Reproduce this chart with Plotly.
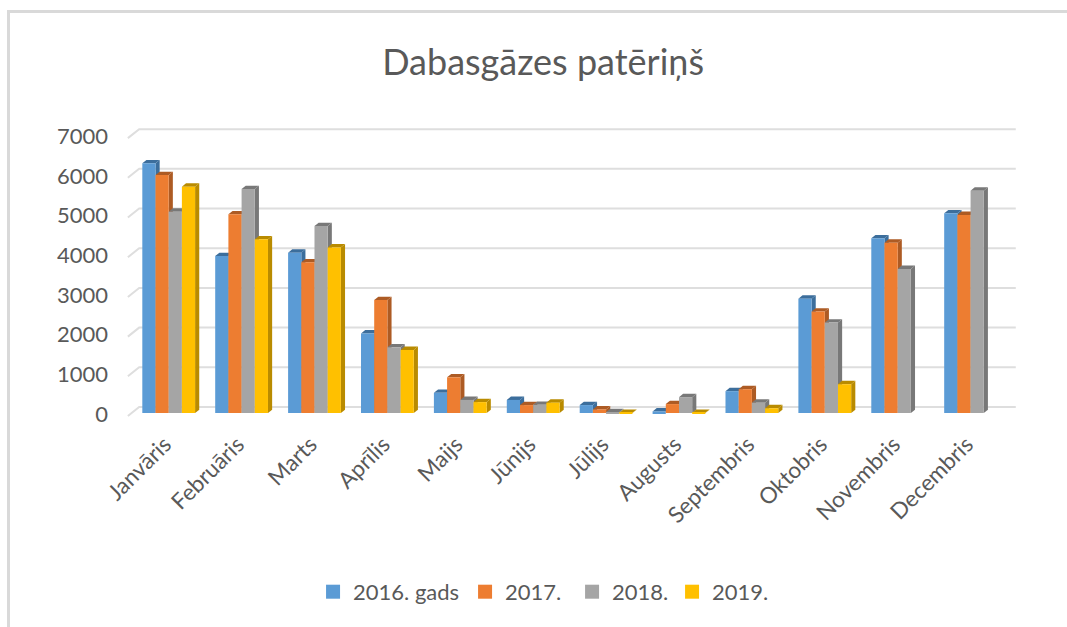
import plotly.graph_objects as go

title = "Dabasgāzes patēriņš"
months = ["Janvāris", "Februāris", "Marts", "Aprīlis", "Maijs", "Jūnijs", "Jūlijs",
          "Augusts", "Septembris", "Oktobris", "Novembris", "Decembris"]
y_ticks = [0, 1000, 2000, 3000, 4000, 5000, 6000, 7000]

names = ["2016. gads", "2017.", "2018.", "2019."]
s2016 = [6290, 3955, 4040, 2005, 510, 330, 200, 40, 550, 2880, 4400, 5030]
s2017 = [5995, 5005, 3795, 2845, 900, 200, 90, 225, 600, 2555, 4290, 4990]
s2018 = [5070, 5640, 4710, 1655, 330, 205, 20, 400, 260, 2280, 3630, 5600]
s2019 = [5700, 4375, 4170, 1590, 275, 260, 5, 5, 120, 725, None, None]
series = [s2016, s2017, s2018, s2019]

colors = ["#5B9BD5", "#ED7D31", "#A5A5A5", "#FFC000"]
dark = ["#3C6E9C", "#AD5B24", "#787878", "#B98B00"]
legend_left = [0.2145, 0.3834, 0.5023, 0.6134]

bar_w = 0.181      # one bar, in category units
dx, dy = 0.057, 85 # depth of the fake 3d

fig = go.Figure()
shapes = []

# outer frame, only top and left are in the picture
shapes.append(dict(type="path", xref="paper", yref="paper", line=dict(color="#D9D9D9", width=3),
                   path="M -0.1239 -0.69 L -0.1239 1.362 L 1.0523 1.362"))

# back wall gridlines with the short slant on the left
for t in y_ticks:
    shapes.append(dict(type="path", layer="below", line=dict(color="#DEDEDE", width=2),
                       path=f"M -0.56 {t - 76} L -0.405 {t + 151} L 11.62 {t + 151}"))

for j, vals in enumerate(series):
    xs = [i + (j - 2) * bar_w for i in range(len(months))]
    for x0, v in zip(xs, vals):
        if v is None:
            continue
        x1 = x0 + bar_w
        shapes.append(dict(type="path", layer="below", fillcolor=dark[j], line_width=0,
                           path=f"M {x1} 0 L {x1} {v} L {x1 + dx} {v + dy} L {x1 + dx} {dy} Z"))
        shapes.append(dict(type="path", layer="below", fillcolor=dark[j], line_width=0,
                           path=f"M {x0} {v} L {x1} {v} L {x1 + dx} {v + dy} L {x0 + dx} {v + dy} Z"))
    fig.add_trace(go.Bar(x=list(range(len(months))), y=vals, name=names[j],
                         marker=dict(color=colors[j], line_width=0), showlegend=False))
    # square legend keys, one legend each because the gaps are uneven
    fig.add_trace(go.Scatter(x=[None], y=[None], mode="markers", name=names[j],
                             legend="legend" if j == 0 else f"legend{j + 1}",
                             marker=dict(symbol="square", size=14, color=colors[j])))

legend_style = dict(xanchor="left", yanchor="middle", y=-0.573,
                    font=dict(size=22), itemwidth=30, bgcolor="rgba(0,0,0,0)")

fig.update_layout(
    width=1067, height=627,
    barmode="group", bargap=0.276, bargroupgap=0,
    paper_bgcolor="white", plot_bgcolor="white",
    font=dict(family="Lato", color="#595959"),
    title=dict(text=title, x=0.509, xanchor="center", y=0.901, yanchor="middle",
               font=dict(size=36, color="#595959")),
    margin=dict(l=120, r=47, t=120, b=207, autoexpand=False),
    shapes=shapes,
    xaxis=dict(range=[-0.668, 11.678], tickvals=list(range(len(months))), ticktext=months,
               tickangle=-45, tickfont=dict(size=22.5), showgrid=False, zeroline=False,
               showline=False, ticks="", ticklabelstandoff=6, ticklabelshift=-4),
    yaxis=dict(range=[-176, 7381], tickvals=y_ticks, tickfont=dict(size=22),
               showgrid=False, zeroline=False, showline=False, ticks="",
               ticklabelstandoff=11, ticklabelshift=1),
    legend=dict(x=legend_left[0], **legend_style),
    legend2=dict(x=legend_left[1], **legend_style),
    legend3=dict(x=legend_left[2], **legend_style),
    legend4=dict(x=legend_left[3], **legend_style),
)

fig.write_html("out.html", config={"displayModeBar": False},
               post_script="document.body.style.margin='0';")
